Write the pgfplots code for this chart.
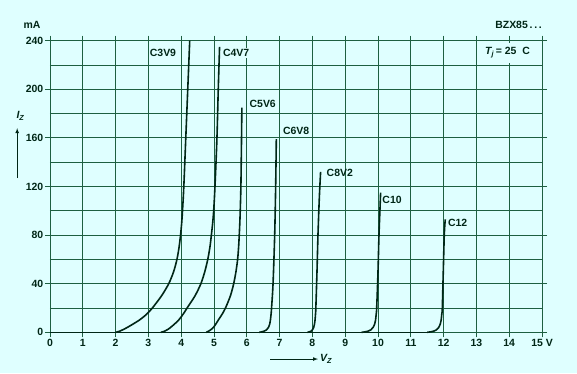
\documentclass[border=0pt]{standalone}
\usepackage{fontspec}
\setmainfont{Liberation Sans}
\usepackage{pgfplots}
\pgfplotsset{compat=1.18}
\usetikzlibrary{backgrounds}
\definecolor{bg}{RGB}{223,255,255}
\definecolor{gridc}{RGB}{30,95,65}
\definecolor{ink}{RGB}{0,38,22}
\newcommand{\lab}{\bfseries\fontsize{10.5}{12}\selectfont}
\begin{document}
\begin{tikzpicture}[show background rectangle, background rectangle/.style={fill=bg, draw=none}, inner frame sep=0pt]
\begin{axis}[scale only axis, width=492bp, height=291.6bp,
  xmin=0, xmax=15, ymin=0, ymax=240,
  xtick={0,1,...,15},
  xticklabels={0,1,2,3,4,5,6,7,8,9,10,11,12,13,14,{15 V}},
  ytick={0,40,...,240},
  minor ytick={20,60,...,220},
  grid=both,
  major grid style={gridc, line width=0.9pt},
  minor grid style={gridc, line width=0.9pt},
  axis line style={gridc, line width=0.9pt},
  tick style={gridc, line width=0.9pt},
  tick align=outside, major tick length=5bp, minor tick length=0pt,
  ticklabel style={font=\lab, text=ink, inner sep=1.5bp},
  /pgf/number format/assume math mode=true,
  clip=false,
  every axis plot/.append style={ink, line width=1.6pt},
]
\coordinate (bl) at (rel axis cs:-0.1016,-0.1396);
\coordinate (tr) at (rel axis cs:1.0711,1.1396);

\addplot[sharp plot] coordinates {(0,0) (11.6,0)};
% C3V9
\addplot[smooth, tension=0.5] coordinates {(2.0,0) (2.13,1) (2.25,2.5) (2.42,5) (2.72,10) (2.95,15) (3.12,20) (3.40,30) (3.62,40) (3.77,50) (3.87,60) (3.935,70) (3.98,80) (4.015,90) (4.04,100) (4.08,120) (4.14,160) (4.2,200) (4.26,240)};
% C4V7
\addplot[smooth, tension=0.5] coordinates {(3.38,0) (3.5,1) (3.6,2.5) (3.72,5) (3.92,10) (4.06,15) (4.18,20) (4.42,30) (4.6,40) (4.72,50) (4.81,60) (4.875,70) (4.92,80) (4.96,90) (4.99,100) (5.03,120) (5.09,160) (5.13,200) (5.17,235)};
% C5V6
\addplot[smooth, tension=0.5] coordinates {(4.76,0) (4.84,1) (4.92,2.5) (5.01,5) (5.13,10) (5.25,15) (5.35,20) (5.5,30) (5.6,40) (5.67,50) (5.72,60) (5.75,70) (5.77,80) (5.787,90) (5.8,100) (5.82,120) (5.835,150) (5.85,185)};
% C6V8
\addplot[smooth, tension=0.5] coordinates {(6.38,0) (6.47,0.5) (6.53,1) (6.6,2) (6.66,4) (6.7,7) (6.72,10) (6.74,15) (6.755,20) (6.8,40) (6.85,80) (6.88,120) (6.9,159)};
% C8V2
\addplot[smooth, tension=0.5] coordinates {(7.85,0) (7.92,0.5) (7.96,1) (8.0,2) (8.04,4) (8.065,7) (8.08,10) (8.095,15) (8.105,20) (8.14,50) (8.17,80) (8.21,110) (8.25,132)};
% C10
\addplot[smooth, tension=0.5] coordinates {(9.5,0) (9.63,0.5) (9.7,1) (9.78,2) (9.85,4) (9.9,7) (9.925,10) (9.945,15) (9.96,20) (10.0,50) (10.03,80) (10.08,115)};
% C12
\addplot[smooth, tension=0.5] coordinates {(11.5,0) (11.63,0.5) (11.7,1) (11.78,2) (11.85,4) (11.9,7) (11.925,10) (11.945,15) (11.96,20) (11.99,50) (12.02,80) (12.05,93)};

\node[font=\lab, text=ink, anchor=east, inner sep=1pt] at (axis cs:3.88,230) {C3V9};
\node[font=\lab, text=ink, anchor=west, inner sep=1pt, fill=bg] at (axis cs:5.24,230) {C4V7};
\node[font=\lab, text=ink, anchor=west, inner sep=1pt] at (axis cs:6.05,188) {C5V6};
\node[font=\lab, text=ink, anchor=west, inner sep=1pt] at (axis cs:7.07,166) {C6V8};
\node[font=\lab, text=ink, anchor=west, inner sep=1pt] at (axis cs:8.4,131) {C8V2};
\node[font=\lab, text=ink, anchor=west, inner sep=1pt] at (axis cs:10.1,109) {C10};
\node[font=\lab, text=ink, anchor=west, inner sep=1pt] at (axis cs:12.1,90) {C12};

\node[font=\lab, text=ink, fill=bg, inner sep=2pt, minimum height=20bp] at (axis cs:13.95,230) {\itshape T\textsubscript{j}\upshape\,= 25\ \ C};
\node[font=\lab, text=ink, anchor=east, inner sep=0pt] at (axis cs:15,253) {BZX85\,.\,.\,.};
\node[font=\lab, text=ink] at (axis cs:-0.55,253) {mA};
\node[font=\lab, text=ink] at (axis cs:-0.9,178) {\itshape I\textsubscript{Z}};
\draw[ink, line width=0.7pt, -latex] (axis cs:-1.0,127) -- (axis cs:-1.0,168);
\draw[ink, line width=0.7pt, -latex] (axis cs:6.72,-22) -- (axis cs:8.17,-22);
\node[font=\lab, text=ink, anchor=west, inner sep=1pt] at (axis cs:8.2,-22) {\itshape V\textsubscript{Z}};
\end{axis}
\path (bl) rectangle (tr);
\end{tikzpicture}
\end{document}
